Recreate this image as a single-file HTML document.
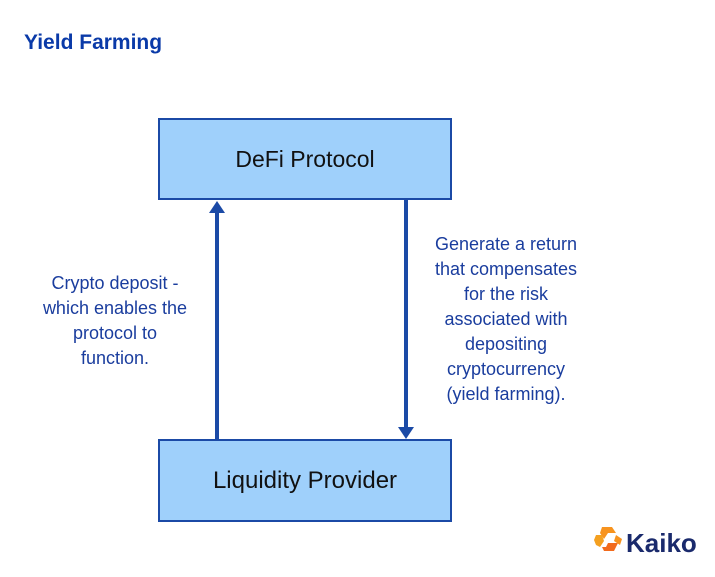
<!DOCTYPE html>
<html><head><style>
body{margin:0;width:715px;height:577px;background:#fff;position:relative;overflow:hidden;font-family:"Liberation Sans",sans-serif}
.t{position:absolute;left:24px;top:31px;font-size:21px;font-weight:bold;color:#0a3aa8}
.box{position:absolute;left:158px;width:294px;background:#9fd0fb;border:2px solid #1b4aa6;box-sizing:border-box;display:flex;align-items:center;justify-content:center;color:#111}
.lbl{position:absolute;text-align:center;font-size:18px;line-height:25px;color:#1a3d9e;white-space:nowrap}
</style></head><body>
<div class="t">Yield Farming</div>
<div class="box" style="top:118px;height:82px;font-size:23px">DeFi Protocol</div>
<div class="box" style="top:439px;height:83px;font-size:24px">Liquidity Provider</div>
<svg width="715" height="577" style="position:absolute;left:0;top:0">
<line x1="217" y1="439" x2="217" y2="212" stroke="#1b4aa6" stroke-width="4"/>
<polygon points="209,213 225,213 217,201" fill="#1b4aa6"/>
<line x1="406" y1="200" x2="406" y2="428" stroke="#1b4aa6" stroke-width="4"/>
<polygon points="398,427 414,427 406,439" fill="#1b4aa6"/>
<g transform="translate(594,527)">
<polygon points="8,0 18,0 22,6 14,6 10,12 6,6" fill="#f7931e"/>
<polygon points="2,8 8,8 10,14 6,20 2,18 0,13" fill="#f4a020"/>
<polygon points="14,16 24,16 20,24 10,24 8,20 12,20" fill="#f26b1d"/>
<polygon points="22,8 28,12 26,18 20,14" fill="#f7931e"/>
</g>
<text x="626" y="552" font-family="Liberation Sans,sans-serif" font-size="26" font-weight="bold" fill="#1a2a6c">Kaiko</text>
</svg>
<div class="lbl" style="left:15px;top:271px;width:200px">Crypto deposit -<br>which enables the<br>protocol to<br>function.</div>
<div class="lbl" style="left:406px;top:232px;width:200px">Generate a return<br>that compensates<br>for the risk<br>associated with<br>depositing<br>cryptocurrency<br>(yield farming).</div>
</body></html>
